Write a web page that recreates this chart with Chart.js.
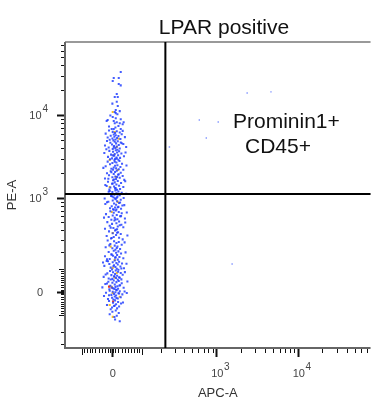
<!DOCTYPE html>
<html><head><meta charset="utf-8">
<script src="https://cdn.jsdelivr.net/npm/chart.js"></script>
<style>html,body{margin:0;padding:0;background:#fff;overflow:hidden}canvas{display:block}</style>
</head><body>
<canvas id="c" width="372" height="405"></canvas>
<script>
// ---------- chart content ----------
const chartTitle = 'LPAR positive';
const xAxisLabel = 'APC-A';
const yAxisLabel = 'PE-A';
const gateLabel = ['Prominin1+', 'CD45+'];
const xGate = 227;      // APC-A gate
const yGate = 1120;     // PE-A gate
const xRange = [-182, 77800];
const yRange = [-336, 76250];
const xWidthBasis = 52.5;
const yWidthBasis = 74.3;

const xMajorTicks = [0, 1000, 10000];
const xMajorBase = ['0', '10', '10'];
const xMajorExp = ['', '3', '4'];
const yMajorTicks = [0, 1000, 10000];
const yMajorBase = ['0', '10', '10'];
const yMajorExp = ['', '3', '4'];
const xMidTicks = [-100, 100];
const yMidTicks = [-100, 100];
const xMinorTicks = [-90,-80,-70,-60,-50,-40,-30,-20,-10,-5,5,10,20,30,40,50,60,70,80,90,200,300,400,500,600,700,800,900,2000,3000,4000,5000,6000,7000,8000,9000,20000,30000,40000,50000,60000,70000];
const yMinorTicks = [-300,-200,-90,-80,-70,-60,-50,-40,-30,-20,-10,-5,5,10,20,30,40,50,60,70,80,90,200,300,400,500,600,700,800,900,2000,3000,4000,5000,6000,7000,8000,9000,20000,30000,40000,50000,60000,70000];

// events [APC-A, PE-A]
const bluePoints = [
[27,33100],[6,28100],[21,28100],[3,25800],[21,23800],[27,22900],[15,18000],[9,16600],[18,16600],[15,14500],[2,13800],[18,12900],[12,11570],[24,11200],[9,10950],[12,10600],[17,10300],[-4,9900],[3,9540],[12,9200],[27,8950],[-12,8780],[-15,8500],[6,8500],[15,8250],[36,8250],[9,8000],[24,8000],[33,7800],[20,7400],[-8,7300],[11,7100],[0,6830],[6,6830],[27,6830],
[-8,6550],[15,6400],[3,6300],[24,6200],[10,6100],[-18,6000],[30,5900],[6,5850],[12,5750],[-3,5650],[20,5600],[8,5500],[40,5450],[-12,5380],[16,5300],[2,5250],[26,5180],[11,5100],[-6,5060],[33,6480],
[5,4980],[-14,4900],[18,4850],[9,4780],[27,4700],[-4,4650],[13,4580],[35,4500],[1,4450],[21,4380],[-20,4320],[7,4260],[15,4200],[44,4150],[-9,4080],[11,4020],[24,3970],[3,3920],[-16,3880],[17,3840],[30,4600],[6,4100],
[12,3780],[-7,3720],[22,3680],[4,3620],[16,3560],[-22,3500],[29,3450],[9,3400],[-2,3350],[19,3300],[7,3250],[37,3200],[-11,3150],[14,3100],[25,3060],[1,3020],[10,2980],[-5,2940],[20,2910],[42,3550],[3,3280],[15,3000],
[8,2860],[23,2800],[-12,2760],[14,2700],[2,2650],[31,2600],[-5,2560],[17,2500],[10,2460],[-18,2420],[26,2380],[6,2340],[13,2300],[-1,2260],[21,2230],[35,2200],[9,2750],[45,2480],[-25,2320],[4,2210],
[15,2150],[-3,2110],[10,2070],[27,2030],[-14,2000],[6,1960],[19,1920],[-8,1890],[33,1850],[11,1820],[2,1790],[24,1760],[-20,1730],[13,1700],[7,1680],[38,1660],[-1,2050],[21,1940],[16,1800],[-10,1710],
[4,1640],[18,1610],[-11,1580],[9,1550],[28,1520],[1,1490],[14,1460],[-19,1440],[22,1410],[7,1380],[35,1360],[-4,1340],[12,1310],[25,1290],[-7,1270],[16,1260],[41,1600],[3,1500],[-15,1400],[10,1320],
[11,1240],[-6,1220],[20,1200],[2,1180],[30,1160],[14,1140],[-13,1120],[8,1100],[24,1080],[-2,1060],[17,1040],[5,1020],[36,1000],[-21,985],[12,970],[27,955],[-9,1190],[19,1110],[1,1050],[9,990],[44,1130],[15,1010],
[3,935],[16,915],[-10,900],[25,880],[7,860],[-19,845],[13,830],[32,810],[0,795],[20,780],[10,765],[-5,750],[28,740],[14,725],[6,718],[-14,890],[38,820],[18,770],[4,730],[22,870],
[12,705],[-4,690],[21,675],[6,660],[30,650],[-17,635],[15,620],[3,610],[25,598],[-9,585],[9,572],[40,560],[17,550],[-1,540],[46,665],[28,600],[-23,575],[11,545],
[8,530],[22,515],[-13,505],[14,490],[1,480],[29,468],[-6,455],[18,445],[35,435],[5,425],[-20,415],[12,405],[41,500],[24,460],[-3,430],[16,410],
[10,395],[-8,385],[19,375],[3,365],[27,355],[13,345],[-15,335],[6,325],[22,318],[-2,310],[33,302],[16,370],[48,340],[0,315],
[-12,292],[7,285],[21,278],[14,270],[-4,262],[30,255],[9,248],[17,241],[-18,235],[2,228],[25,222],[11,216],[39,275],[-7,250],[15,230],
[6,210],[20,205],[-9,200],[13,195],[28,190],[-1,185],[16,180],[4,176],[-20,172],[23,168],[10,164],[35,160],[-6,156],[18,152],[42,198],[0,182],[12,166],[-14,154],
[9,147],[-15,144],[22,140],[3,137],[14,133],[31,130],[-7,127],[18,124],[7,120],[-22,117],[26,114],[11,111],[-3,108],[37,105],[15,102],[1,99],[20,97],[-11,142],[45,128],[5,115],[29,104],[-26,135],
[12,94],[-5,91],[19,88],[4,85],[27,82],[-13,80],[10,77],[33,74],[-1,72],[16,69],[7,66],[-24,64],[22,62],[13,59],[-9,57],[2,55],[29,53],[18,51],[40,86],[-18,75],[8,67],[24,60],[-3,52],
[6,48],[21,46],[-10,43],[14,41],[2,38],[30,36],[-19,33],[9,31],[25,28],[-4,26],[17,24],[11,21],[-28,19],[36,17],[4,15],[19,13],[-7,11],[13,9],[48,44],[-14,35],[23,27],[0,18],[8,12],
[15,7],[-6,5],[24,3],[3,1],[11,-1],[-17,-3],[20,-5],[7,-8],[32,-10],[-1,-12],[13,-15],[-23,-17],[9,-19],[27,-22],[1,-24],[18,-27],[-11,-29],[5,-31],[39,2],[22,-6],[-8,-14],[14,-25],[46,-4],
[10,-35],[-8,-38],[19,-42],[4,-45],[28,-48],[13,-52],[-14,-55],[7,-59],[22,-62],[1,-66],[16,-70],[-3,-74],[34,-44],[9,-57],
[12,-80],[2,-86],[21,-92],[-6,-98],[15,-105],[8,-112],[10,-125],[24,-135]
];
const sparsePoints = [[2395,18500],[4690,19100],[617,8780],[1057,8300],[753,5320],[257,4150],[1566,127]];
const yellowPoints = [[3,10950],[9,6280],[15,4150],[-6,2890],[18,2185],[-6,1365],[18,898],[0,676],[3,367],[9,150],[3,106],[15,82],[0,21],[3,-4],[-6,-55],[3,-111],[6,3300],[12,1800],[21,5200],[-3,240],[9,60],[24,-20]];
const redPoints = [[-8,22],[0,18],[4,-40]];

// ---------- biexponential scale ----------
const biex = (v, w) => Math.asinh(v / (2 * w)) / Math.LN10;
const unbiex = (t, w) => 2 * w * Math.sinh(t * Math.LN10);

class BiexScale extends Chart.LinearScale {
  _bw() { return this.axis === 'x' ? xWidthBasis : yWidthBasis; }
  configure() {
    super.configure();
    const w = this._bw();
    this._startValue = biex(this.min, w);
    this._endValue = biex(this.max, w);
    this._valueRange = this._endValue - this._startValue;
  }
  getPixelForValue(v) {
    if (v === null || v === undefined || isNaN(v)) return NaN;
    return this.getPixelForDecimal((biex(v, this._bw()) - this._startValue) / this._valueRange);
  }
  getValueForPixel(p) {
    const d = this.getDecimalForPixel(p);
    return unbiex(this._startValue + d * this._valueRange, this._bw());
  }
}
BiexScale.id = 'biex';
BiexScale.defaults = {};
Chart.register(BiexScale);

const FONT = "'Liberation Sans', Arial, Helvetica, sans-serif";
const toXY = arr => arr.map(p => ({x: p[0], y: p[1]}));

const overlay = {
  id: 'flowOverlay',
  afterDraw(chart) {
    const ctx = chart.ctx;
    const xs = chart.scales.x, ys = chart.scales.y;
    const a = chart.chartArea;
    ctx.save();
    // frame
    ctx.strokeStyle = '#777';
    ctx.lineWidth = 1.5;
    ctx.beginPath();
    ctx.moveTo(a.left, a.top); ctx.lineTo(a.right, a.top);
    ctx.stroke();
    ctx.strokeStyle = '#666';
    ctx.lineWidth = 2;
    ctx.beginPath();
    ctx.moveTo(a.left, a.top); ctx.lineTo(a.left, a.bottom + 1);
    ctx.moveTo(a.left - 1, a.bottom); ctx.lineTo(a.right, a.bottom);
    ctx.stroke();

    // ticks
    ctx.strokeStyle = '#111';
    const xt = (vals, len, lw) => {
      ctx.lineWidth = lw;
      vals.forEach(v => {
        const px = Math.round(xs.getPixelForValue(v)) + 0.5;
        if (px < a.left || px > a.right) return;
        ctx.beginPath(); ctx.moveTo(px, a.bottom + 1); ctx.lineTo(px, a.bottom + 1 + len); ctx.stroke();
      });
    };
    const yt = (vals, len, lw) => {
      ctx.lineWidth = lw;
      vals.forEach(v => {
        const py = Math.round(ys.getPixelForValue(v)) + 0.5;
        if (py < a.top || py > a.bottom) return;
        ctx.beginPath(); ctx.moveTo(a.left - 1, py); ctx.lineTo(a.left - 1 - len, py); ctx.stroke();
      });
    };
    xt(xMinorTicks, 4, 1); xt(xMidTicks, 6, 1); xt(xMajorTicks, 8, 2);
    yt(yMinorTicks, 3, 1); yt(yMidTicks, 5, 1); yt(yMajorTicks, 7, 2);

    // tick labels
    ctx.fillStyle = '#444';
    xMajorTicks.forEach((v, i) => {
      const px = xs.getPixelForValue(v);
      ctx.font = '11px ' + FONT;
      ctx.textAlign = 'center'; ctx.textBaseline = 'alphabetic';
      ctx.fillText(xMajorBase[i], px + 1, 377);
      if (xMajorExp[i]) {
        const w = ctx.measureText(xMajorBase[i]).width;
        ctx.textAlign = 'left';
        ctx.font = '10px ' + FONT;
        ctx.fillText(xMajorExp[i], px + 1 + w / 2 + 0.5, 370);
      }
    });
    yMajorTicks.forEach((v, i) => {
      const py = ys.getPixelForValue(v);
      ctx.font = '11px ' + FONT;
      ctx.textBaseline = 'alphabetic';
      ctx.textAlign = 'right';
      if (yMajorExp[i]) {
        ctx.fillText(yMajorBase[i], 41.5, py + 4);
        ctx.textAlign = 'left';
        ctx.font = '10px ' + FONT;
        ctx.fillText(yMajorExp[i], 42.5, py - 3);
      } else {
        ctx.fillText(yMajorBase[i], 43, py + 4);
      }
    });

    // gates
    ctx.strokeStyle = '#000';
    ctx.lineWidth = 2;
    const gx = xs.getPixelForValue(xGate), gy = ys.getPixelForValue(yGate);
    ctx.beginPath();
    ctx.moveTo(gx, a.top); ctx.lineTo(gx, a.bottom);
    ctx.moveTo(a.left, gy); ctx.lineTo(a.right, gy);
    ctx.stroke();

    // title and gate label
    ctx.fillStyle = '#111';
    ctx.font = '21px ' + FONT;
    ctx.textAlign = 'center'; ctx.textBaseline = 'alphabetic';
    ctx.fillText(chartTitle, 224, 34);
    ctx.textAlign = 'left';
    ctx.fillText(gateLabel[0], 233, 128);
    ctx.fillText(gateLabel[1], 245, 153);
    ctx.restore();
  }
};

const pt = (color, r) => ({
  pointStyle: 'rect', pointRadius: r, pointHoverRadius: r, borderWidth: 0,
  pointBorderWidth: 0, backgroundColor: color, pointBackgroundColor: color
});

new Chart(document.getElementById('c'), {
  type: 'scatter',
  data: {
    datasets: [
      Object.assign({label: 'events', data: toXY(bluePoints)}, pt('rgba(35,65,255,0.85)', 1.45)),
      Object.assign({label: 'sparse', data: toXY(sparsePoints)}, pt('rgba(90,115,255,0.75)', 1.0)),
      Object.assign({label: 'mid density', data: toXY(yellowPoints)}, pt('rgba(250,190,20,0.95)', 1.45)),
      Object.assign({label: 'high density', data: toXY(redPoints)}, pt('rgba(240,40,20,0.95)', 1.45))
    ]
  },
  options: {
    responsive: false,
    animation: false,
    devicePixelRatio: 1,
    layout: {padding: {top: 42, left: 0, right: 0, bottom: 0}},
    plugins: {legend: {display: false}, tooltip: {enabled: false}, title: {display: false}},
    scales: {
      x: {
        type: 'biex', position: 'bottom', min: xRange[0], max: xRange[1], bounds: 'data',
        grid: {display: false, drawTicks: false}, border: {display: false},
        ticks: {display: false},
        title: {display: true, text: xAxisLabel, color: '#333', font: {size: 13, family: FONT}, padding: {top: 0, bottom: 4}},
        afterFit: s => { s.height = 57; }
      },
      y: {
        type: 'biex', position: 'left', min: yRange[0], max: yRange[1], bounds: 'data',
        grid: {display: false, drawTicks: false}, border: {display: false},
        ticks: {display: false},
        title: {display: true, text: yAxisLabel, color: '#333', font: {size: 13, family: FONT}, padding: {top: 5, bottom: 0}},
        afterFit: s => { s.width = 65; }
      }
    }
  },
  plugins: [overlay]
});
</script>
</body></html>
